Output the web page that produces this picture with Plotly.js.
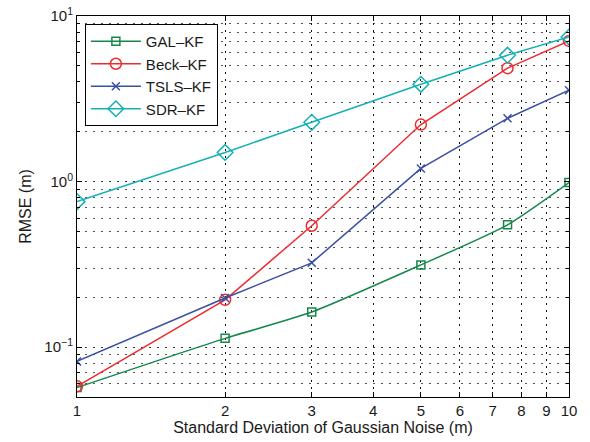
<!DOCTYPE html>
<html><head><meta charset="utf-8">
<script src="https://cdn.plot.ly/plotly-3.0.1.min.js"></script>
<style>html,body{margin:0;padding:0;background:#fff}#chart{width:590px;height:442px}</style>
</head><body><div id="chart"></div>
<script>
const noiseStd = [1, 2, 3, 5, 7.5, 10];
const galKF  = [0.057, 0.113, 0.163, 0.314, 0.548, 0.986];
const beckKF = [0.058, 0.193, 0.541, 2.21, 4.84, 7.07];
const tslsKF = [0.082, 0.198, 0.323, 1.20, 2.41, 3.56];
const sdrKF  = [0.757, 1.50, 2.28, 3.87, 5.80, 7.46];
const seriesNames = ['GAL\u2013KF', 'Beck\u2013KF', 'TSLS\u2013KF', 'SDR\u2013KF'];
const xTicks = [1,2,3,4,5,6,7,8,9,10];
const yMajor = [0.1, 1, 10];
const yMajorText = ['10<sup>\u22121</sup>', '10<sup>0</sup>', '10<sup>1</sup>'];
const yMinor = [0.06,0.07,0.08,0.09,0.2,0.3,0.4,0.5,0.6,0.7,0.8,0.9,2,3,4,5,6,7,8,9];

const traces = [
  {y: galKF,  name: seriesNames[0], color: '#17874a', symbol: 'square-open', size: 8, shape: 'spline'},
  {y: beckKF, name: seriesNames[1], color: '#ee2b2f', symbol: 'circle-open', size: 11, shape: 'linear'},
  {y: tslsKF, name: seriesNames[2], color: '#3a50a2', symbol: 'x-thin-open', size: 8, shape: 'linear'},
  {y: sdrKF,  name: seriesNames[3], color: '#13b1b6', symbol: 'diamond-open', size: 12, shape: 'linear'}
].map(s => ({
  x: noiseStd, y: s.y, name: s.name, type: 'scatter', mode: 'lines+markers',
  line: {color: s.color, width: 1.5, shape: s.shape, smoothing: 0.6},
  marker: {symbol: s.symbol, size: s.size, color: s.color, line: {color: s.color, width: 1.5}}
}));

const fam = 'Liberation Sans, Arial, sans-serif';
const titleFont = {family: fam, size: 16, color: '#1a1a1a'};
const tickFont = {family: fam, size: 15, color: '#1a1a1a'};
const layout = {
  width: 590, height: 442,
  margin: {l: 77, r: 21, t: 16, b: 45},
  paper_bgcolor: '#fff', plot_bgcolor: '#fff',
  font: tickFont,
  showlegend: true,
  legend: {x: 0.016, y: 0.979, xanchor: 'left', yanchor: 'top',
    bordercolor: '#000', borderwidth: 1, bgcolor: '#fff',
    font: {family: fam, size: 15, color: '#1a1a1a'},
    itemwidth: 50,
    tracegroupgap: 0},
  xaxis: {type: 'log', range: [0, 1],
    tickmode: 'array', tickvals: xTicks, ticktext: xTicks.map(String),
    tickfont: tickFont,
    ticks: 'inside', ticklen: 5, tickcolor: '#000', mirror: 'ticks',
    showline: true, linecolor: '#000', linewidth: 1,
    showgrid: true, gridcolor: '#111', gridwidth: 1.2, griddash: '2px,5px',
    zeroline: false,
    title: {text: 'Standard Deviation of Gaussian Noise (m)', font: titleFont, standoff: 2}
  },
  yaxis: {type: 'log', range: [Math.log10(0.05), 1],
    tickmode: 'array', tickvals: yMajor, ticktext: yMajorText,
    tickfont: tickFont,
    ticks: 'inside', ticklen: 5, tickcolor: '#000', mirror: 'ticks',
    showline: true, linecolor: '#000', linewidth: 1,
    showgrid: true, gridcolor: '#333', gridwidth: 1, griddash: '2px,6px',
    zeroline: false,
    minor: {tickmode: 'array', tickvals: yMinor, ticks: 'inside', ticklen: 3, tickcolor: '#000',
      showgrid: true, gridcolor: '#555', gridwidth: 1, griddash: '2px,6px'},
    title: {text: 'RMSE (m)', font: titleFont, standoff: 8}
  }
};
Plotly.newPlot('chart', traces, layout, {displayModeBar: false, staticPlot: true});
</script></body></html>
